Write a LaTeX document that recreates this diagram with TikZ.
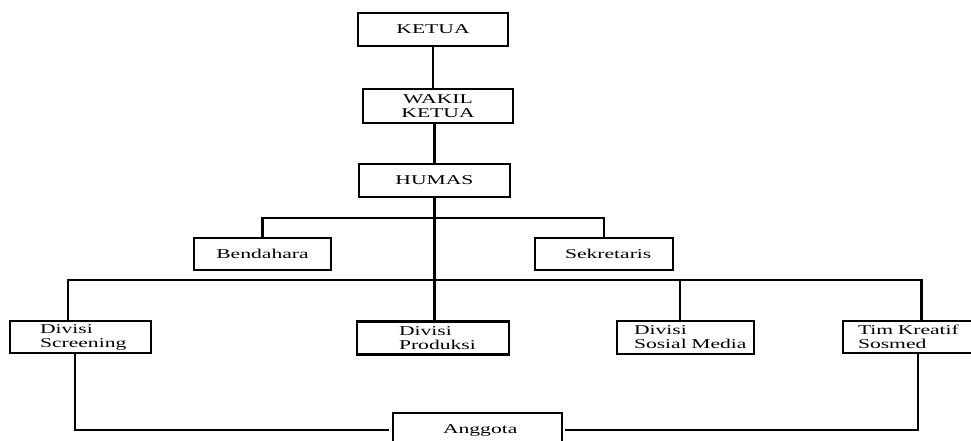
\documentclass[tikz,border=0pt]{standalone}
\usepackage{fontspec}
\setmainfont{Liberation Serif}[FakeStretch=1.6]
\usepackage{tikz}
\usetikzlibrary{positioning,calc}

\begin{document}
\begin{tikzpicture}[x=1pt, y=-1pt,
    box/.style={draw, line width=2.4pt, minimum height=33pt, inner ysep=0pt,
        font=\fontsize{13.5}{14}\selectfont},
    lbox/.style={box, align=left},
    conn/.style={line width=2.2pt}]
    \useasboundingbox (0,0) rectangle (971,441);
    \node[box, minimum width=150pt] (ketua) at (433,29.5) {KETUA};
    \node[box, minimum width=150pt, minimum height=34pt, align=center] (wakil) at (438,106) {WAKIL\\KETUA};
    \node[box, minimum width=151pt] (humas) at (434.5,180.5) {HUMAS};
    \node[box, minimum width=137pt, minimum height=32pt] (bend) at (262.5,254) {Bendahara};
    \node[lbox, minimum height=32pt, inner xsep=30pt, text width=78pt] (sek) at (604,254) {Sekretaris};
    \node[lbox, minimum height=32pt, inner xsep=30pt, text width=81pt] (scr) at (80.5,337) {Divisi\\\mbox{Screening}};
    \node[lbox, inner xsep=42pt, text width=68pt] (prod) at (433,338) {Divisi\\\mbox{Produksi}};
    \node[lbox, inner xsep=17pt, text width=103pt] (sos) at (685.5,337.5) {Divisi\\\mbox{Sosial Media}};
    \node[lbox, minimum height=32pt, inner xsep=15pt, text width=127pt] (tim) at (921.5,337) {Tim Kreatif\\Sosmed};
    \node[lbox, minimum height=34pt, inner xsep=50pt, text width=69pt] (ang) at (477.5,430) {Anggota};
    \coordinate (bus1) at (436,218);
    \coordinate (bus2) at (436,280);
    \draw[conn] (ketua.south) -- (ketua.south |- wakil.north);
    \draw[conn] (humas.north) -- (humas.north |- wakil.south);
    \draw[conn] (humas.south) -- (humas.south |- prod.north);
    \draw[conn] (bend.north) |- (bus1) -| (sek.north);
    \draw[conn] ([xshift=-12.5pt]scr.north) |- (bus2) -| (tim.north);
    \draw[conn] ([xshift=-5.5pt]sos.north) -- ([xshift=-5.5pt]sos.north |- bus2);
    \draw[conn, shorten >=3pt] ([xshift=-5.5pt]scr.south) |- (ang.west);
    \draw[conn, shorten >=2pt] ([xshift=-3.5pt]tim.south) |- (ang.east);
\end{tikzpicture}
\end{document}
